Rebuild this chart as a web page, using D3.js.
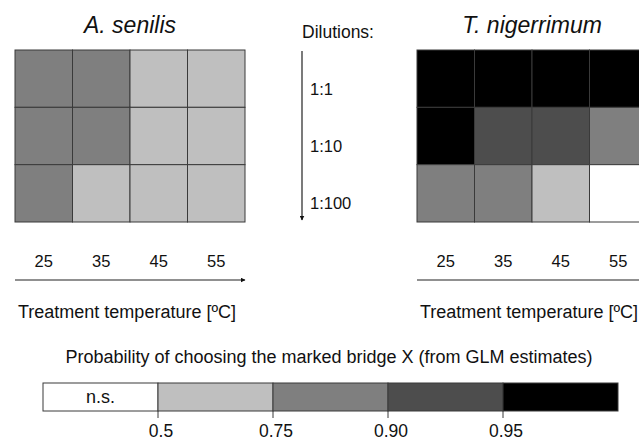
<!DOCTYPE html>
<html>
<head>
<meta charset="utf-8">
<script src="https://cdn.jsdelivr.net/npm/d3@7"></script>
<style>
  html, body { margin: 0; padding: 0; background: #fff; }
  svg { display: block; font-family: "Liberation Sans", Arial, sans-serif; }
</style>
</head>
<body>
<svg id="chart" width="639" height="442"></svg>
<script>
// ---- Data ----
const temperatures = ["25", "35", "45", "55"];
const dilutions = ["1:1", "1:10", "1:100"];
const species = ["A. senilis", "T. nigerrimum"];
// probability class index per cell: 0 = n.s., 1 = 0.5-0.75, 2 = 0.75-0.90, 3 = 0.90-0.95, 4 = >0.95
const senilisClasses = [
  [2, 2, 1, 1],
  [2, 2, 1, 1],
  [2, 1, 1, 1]
];
const nigerrimumClasses = [
  [4, 4, 4, 4],
  [4, 3, 3, 2],
  [2, 2, 1, 0]
];
const legendClasses = [0, 1, 2, 3, 4];
const legendClassLabels = ["n.s.", "", "", "", ""];
const legendTickLabels = ["0.5", "0.75", "0.90", "0.95"];
const legendColors = ["#ffffff", "#bfbfbf", "#7f7f7f", "#4d4d4d", "#000000"];
const xAxisTitle = "Treatment temperature [ºC]";
const dilutionTitle = "Dilutions:";
const legendTitle = "Probability of choosing the marked bridge X (from GLM estimates)";

// ---- Drawing ----
const svg = d3.select("#chart");
const color = d3.scaleOrdinal().domain(legendClasses).range(legendColors);
const lineColor = "#3a3a3a";

const defs = svg.append("defs");
defs.append("marker")
  .attr("id", "arrow")
  .attr("viewBox", "0 0 10 10")
  .attr("refX", 9).attr("refY", 5)
  .attr("markerWidth", 5).attr("markerHeight", 5)
  .attr("markerUnits", "userSpaceOnUse")
  .attr("orient", "auto")
  .append("path").attr("d", "M0,0 L10,5 L0,10 Z").attr("fill", "#111");

const y = d3.scaleBand().domain(dilutions).range([50, 222]).padding(0);

function panel(name, data, x0, x1, arrowHead) {
  const x = d3.scaleBand().domain(temperatures).range([x0, x1]).padding(0);
  const g = svg.append("g");
  // title
  g.append("text")
    .attr("x", (x0 + x1) / 2).attr("y", 33)
    .attr("text-anchor", "middle")
    .attr("font-size", 23).attr("font-style", "italic").attr("fill", "#111")
    .text(name);
  // cells
  const cells = [];
  data.forEach((row, i) => row.forEach((c, j) => cells.push({ d: dilutions[i], t: temperatures[j], c })));
  g.selectAll("rect.cell").data(cells).join("rect")
    .attr("class", "cell")
    .attr("x", d => x(d.t)).attr("y", d => y(d.d))
    .attr("width", x.bandwidth()).attr("height", y.bandwidth())
    .attr("fill", d => color(d.c))
    .attr("stroke", lineColor).attr("stroke-width", 1);
  // temperature labels
  g.selectAll("text.tick").data(temperatures).join("text")
    .attr("class", "tick")
    .attr("x", d => x(d) + x.bandwidth() / 2).attr("y", 267)
    .attr("text-anchor", "middle").attr("font-size", 16.5).attr("fill", "#111")
    .text(d => d);
  // arrow line
  const ln = g.append("line")
    .attr("x1", x0).attr("x2", x1).attr("y1", 280).attr("y2", 280)
    .attr("stroke", "#222").attr("stroke-width", 1.2);
  if (arrowHead) ln.attr("marker-end", "url(#arrow)");
  // axis title
  g.append("text")
    .attr("x", x0 + 3).attr("y", 318)
    .attr("font-size", 18).attr("fill", "#111")
    .text(xAxisTitle);
}

panel(species[0], senilisClasses, 15, 245, true);
panel(species[1], nigerrimumClasses, 417, 647, false);

// dilutions annotation
svg.append("text")
  .attr("x", 302).attr("y", 38)
  .attr("font-size", 17.5).attr("fill", "#111")
  .text(dilutionTitle);
svg.append("line")
  .attr("x1", 302).attr("x2", 302).attr("y1", 51).attr("y2", 220)
  .attr("stroke", "#222").attr("stroke-width", 1.2)
  .attr("marker-end", "url(#arrow)");
svg.selectAll("text.dil").data(dilutions).join("text")
  .attr("class", "dil")
  .attr("x", 310).attr("y", d => y(d) + y.bandwidth() / 2 + 16)
  .attr("font-size", 16.5).attr("fill", "#111")
  .text(d => d);

// legend
const lx = d3.scaleBand().domain(legendClasses).range([43, 618]).padding(0);
svg.append("text")
  .attr("x", 329).attr("y", 363)
  .attr("text-anchor", "middle").attr("font-size", 18).attr("fill", "#111")
  .text(legendTitle);
svg.selectAll("rect.leg").data(legendClasses).join("rect")
  .attr("class", "leg")
  .attr("x", d => lx(d)).attr("y", 383)
  .attr("width", lx.bandwidth()).attr("height", 28)
  .attr("fill", d => color(d))
  .attr("stroke", lineColor).attr("stroke-width", 1);
svg.selectAll("text.legl").data(legendClasses).join("text")
  .attr("class", "legl")
  .attr("x", d => lx(d) + lx.bandwidth() / 2).attr("y", 403)
  .attr("text-anchor", "middle").attr("font-size", 18).attr("fill", "#111")
  .text((d, i) => legendClassLabels[i]);
const boundaries = legendClasses.slice(1);
svg.selectAll("line.legt").data(boundaries).join("line")
  .attr("class", "legt")
  .attr("x1", d => lx(d)).attr("x2", d => lx(d))
  .attr("y1", 411).attr("y2", 418)
  .attr("stroke", lineColor).attr("stroke-width", 1);
svg.selectAll("text.legtl").data(boundaries).join("text")
  .attr("class", "legtl")
  .attr("x", d => lx(d) + 3).attr("y", 437)
  .attr("text-anchor", "middle").attr("font-size", 17.5).attr("fill", "#111")
  .text((d, i) => legendTickLabels[i]);
</script>
</body>
</html>
